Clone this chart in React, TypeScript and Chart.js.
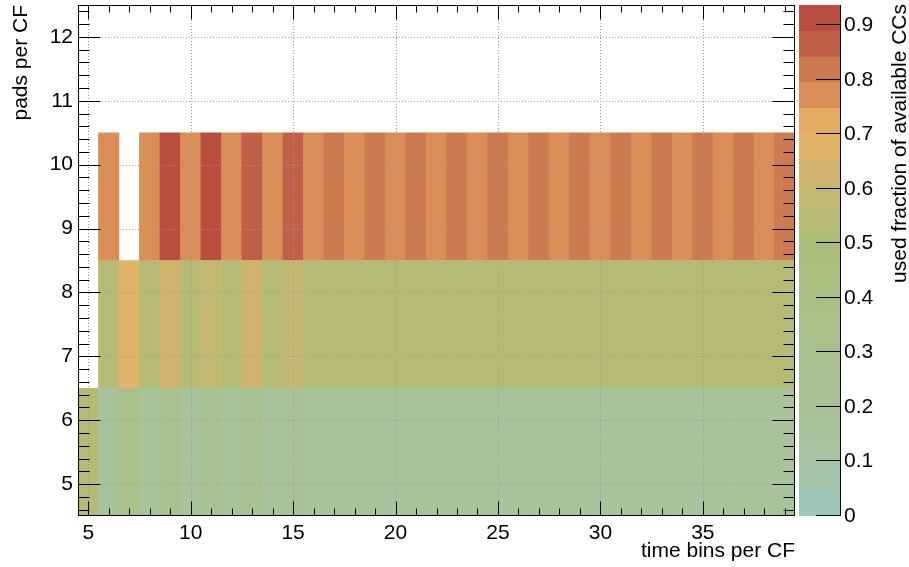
import React, { useEffect, useRef } from 'react';
import { Chart, registerables } from 'chart.js';

Chart.register(...registerables);

// ---------- data ----------
const timeBins = [5, 6, 7, 8, 9, 10, 11, 12, 13, 14, 15, 16, 17, 18, 19, 20, 21, 22, 23, 24, 25, 26, 27, 28, 29, 30, 31, 32, 33, 34, 35, 36, 37, 38, 39];

// pads 5-6 (row spanning 4.5..6.5)
const pads56: (number | null)[] = [
  0.53, 0.17, 0.35, 0.17, 0.29, 0.17, 0.25, 0.17, 0.27, 0.17, 0.22,
  0.17, 0.17, 0.17, 0.17, 0.17, 0.17, 0.17, 0.17, 0.17, 0.17, 0.17, 0.17,
  0.17, 0.17, 0.17, 0.17, 0.17, 0.17, 0.17, 0.17, 0.17, 0.17, 0.17, 0.17,
];
// pads 7-8 (row spanning 6.5..8.5)
const pads78: (number | null)[] = [
  null, 0.54, 0.68, 0.54, 0.64, 0.54, 0.60, 0.54, 0.62, 0.54, 0.59,
  0.54, 0.54, 0.54, 0.54, 0.54, 0.54, 0.54, 0.54, 0.54, 0.54, 0.54, 0.54,
  0.54, 0.54, 0.54, 0.54, 0.54, 0.54, 0.54, 0.54, 0.54, 0.54, 0.54, 0.54,
];
// pads 9-10 (row spanning 8.5..10.5)
const pads910: (number | null)[] = [
  null, 0.78, null, 0.78, 0.92, 0.78, 0.937, 0.78, 0.87, 0.78, 0.86,
  0.78, 0.82, 0.78, 0.82, 0.78, 0.82, 0.78, 0.82, 0.78, 0.82, 0.78, 0.82,
  0.78, 0.82, 0.78, 0.82, 0.78, 0.82, 0.78, 0.82, 0.78, 0.82, 0.78, 0.82,
];
const rowEdges56 = [4.5, 6.5];
const rowEdges78 = [6.5, 8.5];
const rowEdges910 = [8.5, 10.5];

const xTickValues = [5, 10, 15, 20, 25, 30, 35];
const yTickValues = [5, 6, 7, 8, 9, 10, 11, 12];
const zTickValues = [0, 0.1, 0.2, 0.3, 0.4, 0.5, 0.6, 0.7, 0.8, 0.9];
const zMax = 0.937;

// 20-level palette, low -> high
const palette = [
  '#a0c8b8', '#a4c5aa', '#a8c4a2', '#a8c39b', '#a8c296', '#a8c192', '#a9c08d', '#aac088',
  '#aabf83', '#abbe7e', '#adbc78', '#b5ba74', '#c3b871', '#cfb36d', '#e1b468', '#e4ac62',
  '#d98e58', '#cd7a50', '#c25f48', '#b84d40',
];

const FONT = "'Liberation Sans', Arial, Helvetica, sans-serif";
const FSIZE = 21;

function colorFor(v: number) {
  const n = palette.length;
  let k = Math.floor((v / zMax) * n);
  if (k >= n) k = n - 1;
  if (k < 0) k = 0;
  return palette[k];
}

function makeDataset(values: (number | null)[], edges: number[]) {
  const data: any[] = [];
  const colors: string[] = [];
  timeBins.forEach((x, i) => {
    const v = values[i];
    if (v == null) return;
    data.push({ x, y: [edges[0], edges[1]] });
    colors.push(colorFor(v));
  });
  return {
    type: 'bar' as const,
    data,
    backgroundColor: colors,
    borderWidth: 0,
    borderSkipped: false,
    grouped: false,
    barPercentage: 1,
    categoryPercentage: 1,
  };
}

const rootPlugin = {
  id: 'rootStyle',
  afterDatasetsDraw(chart: any) {
    const ctx = chart.ctx as CanvasRenderingContext2D;
    const { left, right, top, bottom } = chart.chartArea;
    const xs = chart.scales.x;
    const ys = chart.scales.y;
    const cs = chart.scales.c;
    ctx.save();

    // dotted grid
    ctx.strokeStyle = '#9a9a9a';
    ctx.lineWidth = 1;
    ctx.setLineDash([1, 2]);
    xTickValues.forEach((v) => {
      const px = Math.round(xs.getPixelForValue(v)) + 0.5;
      ctx.beginPath();
      ctx.moveTo(px, top);
      ctx.lineTo(px, bottom);
      ctx.stroke();
    });
    yTickValues.forEach((v) => {
      const py = Math.round(ys.getPixelForValue(v)) + 0.5;
      ctx.beginPath();
      ctx.moveTo(left, py);
      ctx.lineTo(right, py);
      ctx.stroke();
    });
    ctx.setLineDash([]);

    // frame
    ctx.strokeStyle = '#000';
    ctx.lineWidth = 1;
    const L = Math.round(left) + 0.5;
    const R = Math.round(right) - 0.5;
    const T = Math.round(top) + 0.5;
    const B = Math.round(bottom) - 0.5;
    ctx.strokeRect(L, T, R - L, B - T);

    // x ticks (bottom and top, inward)
    ctx.beginPath();
    for (let v = 5; v <= 39; v++) {
      const len = v % 5 === 0 ? 14 : 7;
      const px = Math.round(xs.getPixelForValue(v)) + 0.5;
      ctx.moveTo(px, B);
      ctx.lineTo(px, B - len);
      ctx.moveTo(px, T);
      ctx.lineTo(px, T + len);
    }
    // y ticks (left and right, inward)
    for (let i = 0; i <= 39; i++) {
      const v = 4.6 + i * 0.2;
      if (v > 12.45) break;
      const major = Math.abs(v - Math.round(v)) < 1e-6;
      const len = major ? 22 : 11;
      const py = Math.round(ys.getPixelForValue(v)) + 0.5;
      ctx.moveTo(L, py);
      ctx.lineTo(L + len, py);
      ctx.moveTo(R, py);
      ctx.lineTo(R - len, py);
    }
    ctx.stroke();

    // colour bar
    const cbLeft = right + 4;
    const cbRight = right + 45;
    const n = palette.length;
    for (let k = 0; k < n; k++) {
      const y0 = cs.getPixelForValue((k * zMax) / n);
      const y1 = cs.getPixelForValue(((k + 1) * zMax) / n);
      ctx.fillStyle = palette[k];
      ctx.fillRect(cbLeft, Math.floor(y1), cbRight - cbLeft, Math.ceil(y0) - Math.floor(y1));
    }
    ctx.strokeStyle = '#000';
    ctx.beginPath();
    ctx.moveTo(cbRight + 0.5, top);
    ctx.lineTo(cbRight + 0.5, bottom);
    zTickValues.forEach((v) => {
      const py = Math.round(cs.getPixelForValue(v)) - 0.5;
      ctx.moveTo(cbRight + 0.5, py);
      ctx.lineTo(cbRight - 24, py);
    });
    ctx.stroke();

    // colour bar title
    ctx.save();
    ctx.translate(900, top - 1);
    ctx.rotate(-Math.PI / 2);
    ctx.font = `${FSIZE}px ${FONT}`;
    ctx.fillStyle = '#000';
    ctx.textAlign = 'right';
    ctx.textBaseline = 'middle';
    ctx.fillText('used fraction of available CCs', 0, 0);
    ctx.restore();

    ctx.restore();
  },
};

export default function App() {
  const ref = useRef<HTMLCanvasElement | null>(null);
  useEffect(() => {
    if (!ref.current) return;
    const tickFont = { family: FONT, size: FSIZE };
    const chart = new Chart(ref.current, {
      type: 'bar',
      data: {
        datasets: [
          makeDataset(pads56, rowEdges56),
          makeDataset(pads78, rowEdges78),
          makeDataset(pads910, rowEdges910),
        ] as any,
      },
      options: {
        responsive: false,
        animation: false,
        devicePixelRatio: 1,
        layout: { padding: { top: 5, left: 0, right: 0, bottom: 0 } },
        plugins: { legend: { display: false }, tooltip: { enabled: false } },
        scales: {
          x: {
            type: 'linear',
            min: 4.5,
            max: 39.5,
            offset: false,
            grid: { display: false, drawTicks: false },
            border: { display: false },
            afterBuildTicks: (s: any) => {
              s.ticks = xTickValues.map((v) => ({ value: v }));
            },
            ticks: { font: tickFont, color: '#000', padding: 5, maxRotation: 0, autoSkip: false },
            title: {
              display: true,
              text: 'time bins per CF',
              align: 'end',
              color: '#000',
              font: { family: FONT, size: FSIZE },
              padding: { top: 0, bottom: 3 },
            },
            afterFit: (s: any) => {
              s.height = 51;
              s.paddingLeft = 0;
              s.paddingRight = 0;
            },
          },
          y: {
            type: 'linear',
            min: 4.5,
            max: 12.5,
            grid: { display: false, drawTicks: false },
            border: { display: false },
            afterBuildTicks: (s: any) => {
              s.ticks = yTickValues.map((v) => ({ value: v }));
            },
            ticks: { font: tickFont, color: '#000', padding: 5 },
            title: {
              display: true,
              text: 'pads per CF',
              align: 'end',
              color: '#000',
              font: { family: FONT, size: FSIZE },
              padding: { top: 9, bottom: 0 },
            },
            afterFit: (s: any) => {
              s.width = 78;
              s.paddingTop = 0;
              s.paddingBottom = 0;
            },
          },
          c: {
            type: 'linear',
            axis: 'y',
            position: 'right',
            min: 0,
            max: zMax,
            grid: { display: false, drawTicks: false },
            border: { display: false },
            afterBuildTicks: (s: any) => {
              s.ticks = zTickValues.map((v) => ({ value: v }));
            },
            ticks: {
              font: tickFont,
              color: '#000',
              padding: 49,
              callback: (v: any) => (Number(v) === 0 ? '0' : Number(v).toFixed(1)),
            },
            afterFit: (s: any) => {
              s.width = 114;
              s.paddingTop = 0;
              s.paddingBottom = 0;
            },
          },
        } as any,
      },
      plugins: [rootPlugin],
    });
    return () => chart.destroy();
  }, []);
  return (
    <div style={{ position: 'fixed', left: 0, top: 0, width: 909, height: 567, background: '#fff' }}>
      <canvas ref={ref} width={909} height={567} style={{ display: 'block', width: 909, height: 567 }} />
    </div>
  );
}
